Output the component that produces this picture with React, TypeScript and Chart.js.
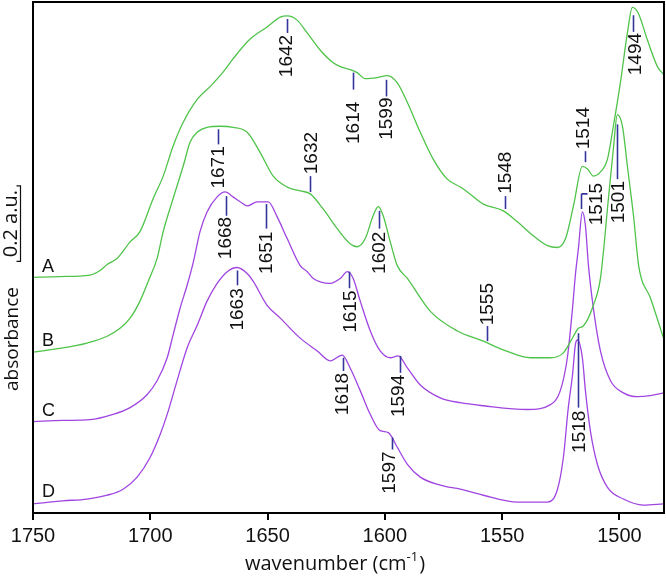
import React, { useEffect, useRef } from 'react';
import { Chart, registerables } from 'chart.js';

Chart.register(...registerables);

// ---- Data (wavenumber in cm^-1, absorbance incl. vertical offset, a.u.) ----
const wnA = [1750, 1738.5, 1725.7, 1721.4, 1718.4, 1714.2, 1708.6, 1704.4, 1698.8, 1694.5, 1690.3, 1686.0, 1680.0, 1674.5, 1668.9, 1666.0, 1661.7, 1657.4, 1650.2, 1644.6, 1641.6, 1637.4, 1633.1, 1627.6, 1622.0, 1619.0, 1614.8, 1611.8, 1608.4, 1603.2, 1599.0, 1594.7, 1590.4, 1584.9, 1579.4, 1573.4, 1567.8, 1564.8, 1558.0, 1549.5, 1543.5, 1536.7, 1530.7, 1526.5, 1523.0, 1519.6, 1515.8, 1513.6, 1511.1, 1508.1, 1505.1, 1502.6, 1499.6, 1496.6, 1494.5, 1492.0, 1488.1, 1483.8, 1481.2];
const absA = [0.624, 0.626, 0.630, 0.642, 0.658, 0.674, 0.718, 0.745, 0.832, 0.892, 0.971, 1.034, 1.095, 1.129, 1.168, 1.192, 1.226, 1.255, 1.287, 1.313, 1.316, 1.305, 1.271, 1.226, 1.192, 1.182, 1.174, 1.166, 1.150, 1.153, 1.158, 1.139, 1.087, 1.008, 0.937, 0.884, 0.863, 0.850, 0.818, 0.800, 0.771, 0.734, 0.708, 0.703, 0.726, 0.813, 0.918, 0.911, 0.892, 0.903, 0.937, 1.024, 1.139, 1.271, 1.339, 1.324, 1.253, 1.182, 1.161];

const wnB = [1750, 1737.2, 1727.0, 1718.4, 1712.9, 1708.6, 1704.4, 1700.9, 1697.1, 1694.5, 1690.3, 1686.0, 1683.0, 1680.0, 1675.8, 1670.2, 1664.7, 1658.7, 1653.2, 1647.6, 1641.6, 1636.1, 1631.8, 1626.3, 1620.3, 1614.8, 1611.8, 1608.4, 1605.0, 1602.8, 1600.7, 1597.7, 1594.7, 1590.4, 1580.6, 1569.1, 1558.0, 1549.5, 1537.9, 1529.4, 1523.9, 1519.6, 1517.5, 1515.4, 1511.1, 1508.1, 1504.7, 1502.6, 1500.9, 1498.7, 1496.6, 1494.0, 1491.8, 1486.7, 1481.2];
const absB = [0.426, 0.437, 0.450, 0.468, 0.489, 0.516, 0.561, 0.613, 0.674, 0.745, 0.832, 0.918, 0.982, 1.008, 1.021, 1.024, 1.021, 1.008, 0.955, 0.892, 0.863, 0.853, 0.845, 0.805, 0.753, 0.713, 0.705, 0.726, 0.787, 0.811, 0.787, 0.718, 0.655, 0.621, 0.534, 0.482, 0.455, 0.432, 0.411, 0.411, 0.424, 0.468, 0.489, 0.495, 0.550, 0.621, 0.832, 0.963, 1.055, 1.024, 0.918, 0.787, 0.655, 0.568, 0.463];

const wnC = [1750, 1737.2, 1725.7, 1715.9, 1708.6, 1701.4, 1697.1, 1692.8, 1690.3, 1687.3, 1684.3, 1681.7, 1678.8, 1675.8, 1671.5, 1668.1, 1664.7, 1661.7, 1658.7, 1654.4, 1649.7, 1645.9, 1641.6, 1636.1, 1633.1, 1630.5, 1623.3, 1619.0, 1616.0, 1613.5, 1610.5, 1606.2, 1602.0, 1597.7, 1594.3, 1590.4, 1584.9, 1576.4, 1567.8, 1558.0, 1539.2, 1529.4, 1525.2, 1522.2, 1520.0, 1518.8, 1517.5, 1515.8, 1514.5, 1513.2, 1511.1, 1508.1, 1503.8, 1498.3, 1492.3, 1486.8, 1481.2];
const absC = [0.242, 0.245, 0.247, 0.261, 0.279, 0.313, 0.350, 0.411, 0.471, 0.542, 0.603, 0.663, 0.745, 0.797, 0.837, 0.850, 0.837, 0.824, 0.813, 0.824, 0.824, 0.784, 0.726, 0.655, 0.639, 0.621, 0.608, 0.621, 0.639, 0.621, 0.561, 0.482, 0.429, 0.411, 0.416, 0.384, 0.339, 0.305, 0.292, 0.284, 0.274, 0.287, 0.324, 0.411, 0.542, 0.629, 0.700, 0.797, 0.761, 0.655, 0.542, 0.429, 0.350, 0.318, 0.308, 0.311, 0.318];

const wnD = [1750, 1737.2, 1727.0, 1718.4, 1711.6, 1705.6, 1700.1, 1695.8, 1692.8, 1688.6, 1684.3, 1680.0, 1675.8, 1671.5, 1667.2, 1663.0, 1658.7, 1656.1, 1650.2, 1644.6, 1636.1, 1628.8, 1623.3, 1618.2, 1614.8, 1610.5, 1606.2, 1602.0, 1598.5, 1594.7, 1590.4, 1584.9, 1576.4, 1567.8, 1558.0, 1543.5, 1530.7, 1526.5, 1523.9, 1521.8, 1520.0, 1518.8, 1517.9, 1515.8, 1514.5, 1512.4, 1509.4, 1505.1, 1498.3, 1489.8, 1481.2];
const absD = [0.024, 0.032, 0.037, 0.047, 0.063, 0.095, 0.147, 0.208, 0.261, 0.350, 0.437, 0.497, 0.561, 0.608, 0.639, 0.650, 0.634, 0.613, 0.550, 0.516, 0.463, 0.429, 0.403, 0.418, 0.384, 0.324, 0.261, 0.218, 0.213, 0.174, 0.129, 0.095, 0.074, 0.063, 0.047, 0.029, 0.029, 0.061, 0.147, 0.279, 0.366, 0.445, 0.458, 0.411, 0.324, 0.218, 0.129, 0.068, 0.037, 0.021, 0.024];

const curveNames = ['A', 'B', 'C', 'D'];
const curveNameWn = [1746.2, 1746.2, 1746.2, 1746.2];
const curveNameAbs = [0.639, 0.442, 0.258, 0.042];

const xTickValues = [1750, 1700, 1650, 1600, 1550, 1500];
const xMin = 1481;
const xMax = 1750;
const yMin = 0;
const yMax = 1.353;

// peak annotations
const annLabels = ['1642', '1614', '1599', '1548', '1514', '1494', '1671', '1632', '1602', '1555', '1515', '1501', '1668', '1651', '1663', '1615', '1594', '1618', '1597', '1518'];
const annWn = [1641.6, 1613.6, 1599.5, 1548.6, 1514.5, 1494.2, 1671.2, 1632.1, 1602.7, 1556.5, 1516.2, 1500.9, 1667.7, 1650.6, 1663.1, 1615.5, 1593.7, 1617.9, 1597.0, 1517.7];
const annTop = [1.308, 1.166, 1.147, 0.839, 0.958, 1.318, 1.016, 0.892, 0.800, 0.495, 0.845, 1.029, 0.839, 0.818, 0.642, 0.639, 0.416, 0.411, 0.200, 0.476];
const annBottom = [1.271, 1.121, 1.103, 0.805, 0.929, 1.274, 0.976, 0.850, 0.753, 0.455, 0.805, 0.884, 0.787, 0.753, 0.603, 0.595, 0.371, 0.376, 0.168, 0.279];
const annLabelAt = [1.266, 1.089, 1.100, 0.845, 0.963, 1.271, 0.971, 0.897, 0.745, 0.497, 0.818, 0.879, 0.784, 0.745, 0.595, 0.589, 0.366, 0.371, 0.163, 0.271];
const annSide = ['below', 'below', 'below', 'above', 'above', 'below', 'below', 'above', 'below', 'above', 'right', 'below', 'below', 'below', 'below', 'below', 'below', 'below', 'below', 'below'];
const annLabelWn = [1642.3, 1613.6, 1599.5, 1548.9, 1515.7, 1493.5, 1671.2, 1631.7, 1602.7, 1556.5, 1510.2, 1500.5, 1668.1, 1650.6, 1663.3, 1614.8, 1594.3, 1618.2, 1598.5, 1517.2];

const scaleBarFrom = 0.666;
const scaleBarSize = 0.2;

const GREEN = '#4fc34a';
const PURPLE = '#a045e0';
const TICKBLUE = '#34349c';
const NUMFONT = '"Liberation Sans", Arial, sans-serif';
const TXTFONT = '"Open Sans", "Liberation Sans", sans-serif';

const toPts = (wn: number[], ab: number[]) => wn.map((w, i) => ({ x: w, y: ab[i] }));

const overlayPlugin = {
  id: 'overlay',
  afterDatasetsDraw(chart: any) {
    const { ctx, chartArea: a, scales } = chart;
    const xs = scales.x;
    const ys = scales.y;
    ctx.save();

    // frame
    ctx.strokeStyle = '#000';
    ctx.lineWidth = 2;
    ctx.strokeRect(a.left, a.top, a.right - a.left, a.bottom - a.top);

    // peak annotations
    ctx.font = `19px ${NUMFONT}`;
    ctx.textBaseline = 'middle';
    for (let i = 0; i < annLabels.length; i++) {
      const px = Math.round(xs.getPixelForValue(annWn[i])) + 0.5;
      const yt = ys.getPixelForValue(annTop[i]);
      const yb = ys.getPixelForValue(annBottom[i]);
      ctx.strokeStyle = TICKBLUE;
      ctx.lineWidth = 1.6;
      ctx.beginPath();
      ctx.moveTo(px, yt);
      ctx.lineTo(px, yb);
      if (annSide[i] === 'right') {
        ctx.moveTo(px, yt);
        ctx.lineTo(px + 6, yt);
      }
      ctx.stroke();

      const lx = xs.getPixelForValue(annLabelWn[i]);
      const ly = ys.getPixelForValue(annLabelAt[i]);
      ctx.fillStyle = '#111';
      ctx.save();
      ctx.translate(lx + 1, ly);
      ctx.rotate(-Math.PI / 2);
      if (annSide[i] === 'below') ctx.textAlign = 'right';
      else if (annSide[i] === 'above') ctx.textAlign = 'left';
      else ctx.textAlign = 'center';
      ctx.fillText(annLabels[i], 0, 0);
      ctx.restore();
    }

    // curve names
    ctx.fillStyle = '#111';
    ctx.font = `18px ${NUMFONT}`;
    ctx.textAlign = 'left';
    ctx.textBaseline = 'alphabetic';
    for (let i = 0; i < curveNames.length; i++) {
      ctx.fillText(curveNames[i], xs.getPixelForValue(curveNameWn[i]), ys.getPixelForValue(curveNameAbs[i]));
    }

    // scale bar
    const sb1 = ys.getPixelForValue(scaleBarFrom);
    const sb2 = ys.getPixelForValue(scaleBarFrom + scaleBarSize);
    const bx = 20.5;
    ctx.strokeStyle = '#111';
    ctx.lineWidth = 1.2;
    ctx.beginPath();
    ctx.moveTo(bx - 4, sb2);
    ctx.lineTo(bx, sb2);
    ctx.lineTo(bx, sb1);
    ctx.lineTo(bx - 4, sb1);
    ctx.stroke();
    ctx.font = `20px ${TXTFONT}`;
    ctx.save();
    ctx.translate(17, (sb1 + sb2) / 2);
    ctx.rotate(-Math.PI / 2);
    ctx.textAlign = 'center';
    ctx.textBaseline = 'alphabetic';
    ctx.fillText('0.2 a.u.', 0, 0);
    ctx.restore();

    // y title
    ctx.save();
    ctx.translate(18, 339);
    ctx.rotate(-Math.PI / 2);
    ctx.textAlign = 'center';
    ctx.textBaseline = 'alphabetic';
    ctx.font = `19px ${TXTFONT}`;
    ctx.fillText('absorbance', 0, 0);
    ctx.restore();

    // x title with superscript
    const base = a.bottom + 57;
    const p1 = 'wavenumber (cm';
    const p3 = ')';
    ctx.font = `20px ${TXTFONT}`;
    const w1 = ctx.measureText(p1).width;
    const w3 = ctx.measureText(p3).width;
    ctx.font = `13px ${TXTFONT}`;
    const w2 = ctx.measureText('-1').width;
    const total = w1 + w2 + w3 + 1;
    let sx = 335 - total / 2;
    ctx.textAlign = 'left';
    ctx.font = `20px ${TXTFONT}`;
    ctx.fillText(p1, sx, base);
    sx += w1;
    ctx.font = `13px ${TXTFONT}`;
    ctx.fillText('-1', sx, base - 9);
    sx += w2 + 1;
    ctx.font = `20px ${TXTFONT}`;
    ctx.fillText(p3, sx, base);

    ctx.restore();
  },
};

export default function App() {
  const ref = useRef<HTMLCanvasElement | null>(null);

  useEffect(() => {
    document.body.style.margin = '0';
    const canvas = ref.current;
    if (!canvas) return;
    const chart = new Chart(canvas, {
      type: 'line',
      data: {
        datasets: [
          { label: 'A', data: toPts(wnA, absA), borderColor: GREEN },
          { label: 'B', data: toPts(wnB, absB), borderColor: GREEN },
          { label: 'C', data: toPts(wnC, absC), borderColor: PURPLE },
          { label: 'D', data: toPts(wnD, absD), borderColor: PURPLE },
        ].map((d) => ({
          ...d,
          borderWidth: 1.3,
          pointRadius: 0,
          fill: false,
          cubicInterpolationMode: 'monotone' as const,
        })),
      },
      options: {
        animation: false,
        responsive: false,
        devicePixelRatio: 1,
        layout: { padding: { left: 33, right: 2, top: 2, bottom: 25 } },
        plugins: { legend: { display: false }, tooltip: { enabled: false } },
        scales: {
          x: {
            type: 'linear',
            reverse: true,
            min: xMin,
            max: xMax,
            afterBuildTicks: (scale: any) => {
              scale.ticks = xTickValues.map((v) => ({ value: v }));
            },
            ticks: {
              color: '#111',
              font: { family: NUMFONT, size: 20 },
              padding: 4,
              maxRotation: 0,
              autoSkip: false,
              callback: (v: any) => String(v),
            },
            grid: {
              display: true,
              drawOnChartArea: false,
              drawTicks: true,
              tickLength: 7,
              color: '#000',
              lineWidth: 2,
            },
            border: { display: true, color: '#000', width: 2 },
          },
          y: {
            type: 'linear',
            display: false,
            min: yMin,
            max: yMax,
          },
        },
      },
      plugins: [overlayPlugin],
    });
    return () => chart.destroy();
  }, []);

  return (
    <div style={{ width: 666, height: 577 }}>
      <canvas ref={ref} width={666} height={577} style={{ display: 'block' }} />
    </div>
  );
}
